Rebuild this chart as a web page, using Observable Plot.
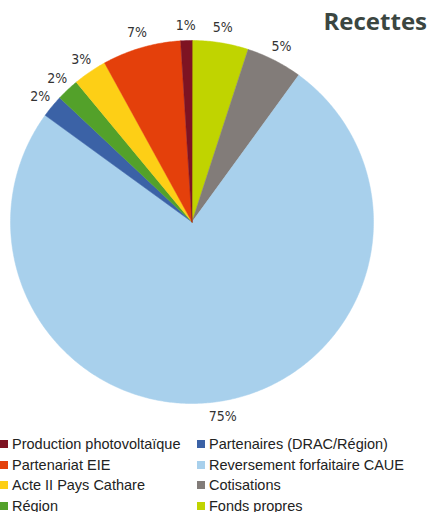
<!DOCTYPE html>
<html><head><meta charset="utf-8">
<script src="https://cdn.jsdelivr.net/npm/d3@7"></script>
<script src="https://cdn.jsdelivr.net/npm/@observablehq/plot@0.6"></script>
<style>
body{margin:0;background:#fff;}
#wrap{position:relative;width:432px;height:512px;overflow:hidden;background:#fff;}
#title{position:absolute;right:5px;top:6px;font:bold 24px "Open Sans",sans-serif;color:#3b4641;line-height:30px;}
#legend > div{margin:0!important;min-height:0!important;font:14.5px "Liberation Sans",Arial,sans-serif!important;color:#222!important;flex-wrap:wrap;width:432px;}
#legend span{width:197px;margin:0!important;height:20.5px;display:inline-flex;align-items:center;white-space:nowrap;overflow:visible;}
#legend span > svg{margin-right:4px!important;flex:none;}
</style></head>
<body><div id="wrap"><div id="chart"></div><div id="legend"></div><div id="title">Recettes</div></div>
<script>
// Slices clockwise from 12 o'clock
const categories = ["Fonds propres","Cotisations","Reversement forfaitaire CAUE","Partenaires (DRAC/Région)","Région","Acte II Pays Cathare","Partenariat EIE","Production photovoltaïque"];
const values = [5,5,75,2,2,3,7,1];
const labels = ["5%","5%","75%","2%","2%","3%","7%","1%"];
const colors = ["#c0d400","#827c79","#a8d0ec","#3b62a6","#53a12a","#fdcf16","#e4400b","#7e1322"];
const legendOrder = ["Production photovoltaïque","Partenaires (DRAC/Région)","Partenariat EIE","Reversement forfaitaire CAUE","Acte II Pays Cathare","Cotisations","Région","Fonds propres"];

const data = categories.map((name,i)=>({name, value: values[i], label: labels[i]}));
const arcs = d3.pie().sort(null).value(d=>d.value)(data);
const slicePts = arcs.flatMap(a=>{
  const name = a.data.name;
  const n = Math.max(2, Math.ceil((a.endAngle-a.startAngle)/0.01));
  const p = [{name, x:0, y:0}];
  for (let i=0;i<=n;i++){ const t = a.startAngle+(a.endAngle-a.startAngle)*i/n; p.push({name, x:Math.sin(t), y:Math.cos(t)}); }
  return p;
});
const labelR = 1.085;
const labelPts = arcs.map(a=>{ const m=(a.startAngle+a.endAngle)/2; return {label:a.data.label, x:labelR*Math.sin(m), y:labelR*Math.cos(m)}; });

const chart = Plot.plot({
  width: 432, height: 434, margin: 0,
  x: {domain:[-1,1], range:[10,373], axis:null},
  y: {domain:[-1,1], range:[403,40], axis:null},
  color: {domain: categories, range: colors},
  style: {background:"transparent"},
  marks: [
    Plot.line(slicePts, {x:"x", y:"y", z:"name", fill:"name", stroke:"name", strokeWidth:0.5, curve:"linear-closed"}),
    Plot.text(labelPts, {x:"x", y:"y", text:"label", fontSize:14, fontFamily:"'DejaVu Sans Condensed','DejaVu Sans',sans-serif", fill:"#333"})
  ]
});
document.getElementById("chart").appendChild(chart);

const legend = Plot.legend({
  legend:"swatches",
  color:{type:"ordinal", domain: legendOrder, range: legendOrder.map(n=>colors[categories.indexOf(n)])},
  swatchSize: 8
});
document.getElementById("legend").appendChild(legend);
</script>
</body></html>
